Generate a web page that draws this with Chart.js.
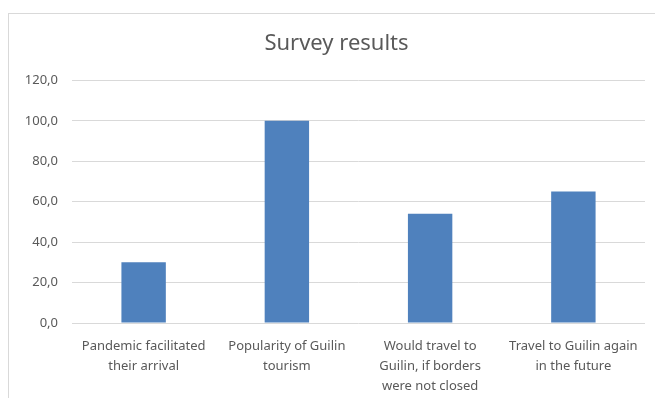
<!DOCTYPE html>
<html>
<head>
<meta charset="utf-8">
<script src="https://cdn.jsdelivr.net/npm/chart.js@4.4.1/dist/chart.umd.min.js"></script>
<style>
  html, body { margin: 0; padding: 0; background: #fff; }
  #wrap { width: 655px; height: 398px; position: relative; }
</style>
</head>
<body>
<div id="wrap"><canvas id="surveyChart"></canvas></div>
<script>
// chart data
const chartTitle = "Survey results";
const categories = [
    ["Pandemic facilitated", "their arrival"],
    ["Popularity of Guilin", "tourism"],
    ["Would travel to", "Guilin, if borders", "were not closed"],
    ["Travel to Guilin again", "in the future"]
];
const seriesValues = [30, 100, 54, 65];
const yTicks = [0, 20, 40, 60, 80, 100, 120];

// light frame around the chart like the office chart box
const frame = {
    id: 'frame',
    afterLayout(chart) {
        // centre the title inside the framed box, not the whole canvas
        if (chart.titleBlock) {
            chart.titleBlock.left = 28;
        }
    },
    beforeDraw(chart) {
        const ctx = chart.ctx;
        ctx.save();
        ctx.fillStyle = '#fff';
        ctx.fillRect(0, 0, chart.width, chart.height);
        ctx.strokeStyle = '#d9d9d9';
        ctx.lineWidth = 1;
        ctx.strokeRect(8.5, 13.5, chart.width + 20, chart.height + 20);
        ctx.restore();
    }
};

const ctx = document.getElementById('surveyChart').getContext('2d');
new Chart(ctx, {
    type: 'bar',
    data: {
        labels: categories,
        datasets: [{
            label: 'Survey',
            data: seriesValues,
            backgroundColor: '#4f81bd',
            borderWidth: 0,
            barPercentage: 0.31,
            categoryPercentage: 1.0
        }]
    },
    options: {
        responsive: true,
        maintainAspectRatio: false,
        animation: false,
        layout: {
            padding: { left: 0, right: 10, top: 0, bottom: 0 }
        },
        plugins: {
            legend: { display: false },
            tooltip: { enabled: false },
            title: {
                display: true,
                text: chartTitle,
                color: '#595959',
                font: { family: 'Noto Sans', size: 22, weight: 'normal' },
                padding: { top: 31, bottom: 23 }
            }
        },
        scales: {
            x: {
                grid: { display: false },
                border: { display: false },
                ticks: {
                    color: '#595959',
                    font: { family: 'Noto Sans', size: 13, lineHeight: 1.55 },
                    maxRotation: 0,
                    autoSkip: false,
                    padding: 5
                },
                afterFit(scale) { scale.height = 75; }
            },
            y: {
                min: 0,
                max: 120,
                border: { display: false },
                grid: { color: '#d9d9d9', drawTicks: false },
                afterBuildTicks(scale) {
                    scale.ticks = yTicks.map(v => ({ value: v }));
                },
                ticks: {
                    color: '#595959',
                    font: { family: 'Noto Sans', size: 13 },
                    padding: 14,
                    callback: v => v.toFixed(1).replace('.', ',')
                },
                afterFit(scale) { scale.width = 72; }
            }
        }
    },
    plugins: [frame]
});
</script>
</body>
</html>
